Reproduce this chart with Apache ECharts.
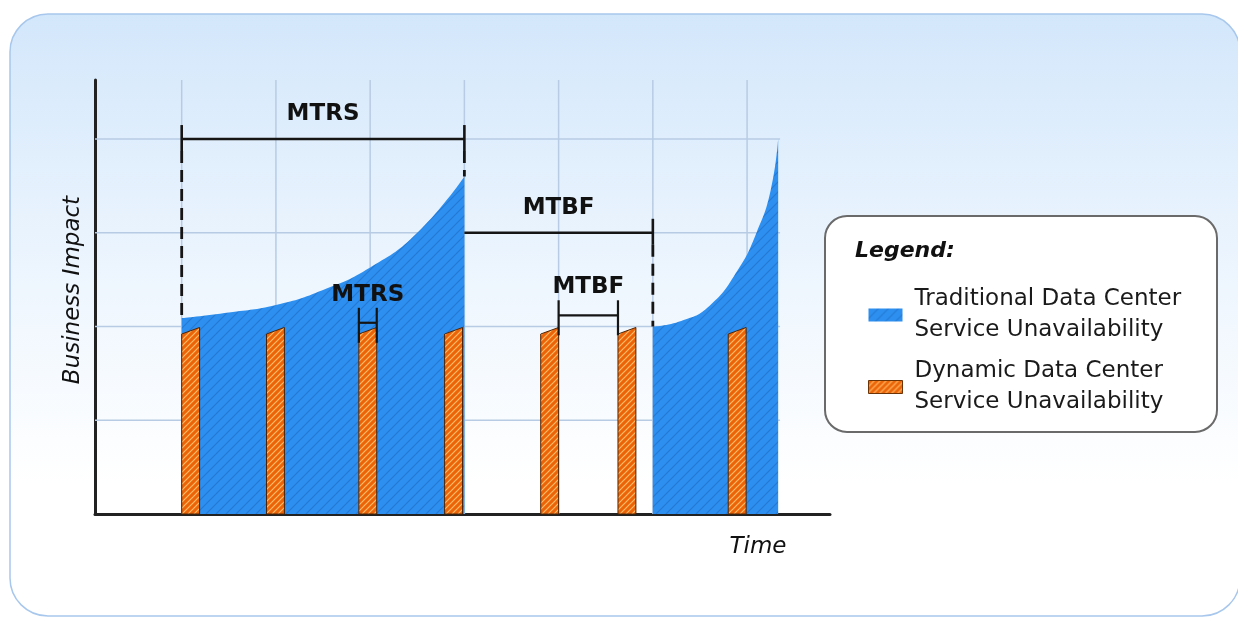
<!DOCTYPE html>
<html>
<head>
<meta charset="utf-8">
<script src="https://cdn.jsdelivr.net/npm/echarts@6/dist/echarts.min.js"></script>
<style>
  html, body { margin: 0; padding: 0; background: #ffffff; }
  #chart { width: 1238px; height: 618px; }
</style>
</head>
<body>
<div id="chart"></div>
<script>
// ---- data -------------------------------------------------------------
// Grid columns (time) and rows (impact)
const gridX = [0, 1, 2, 3, 4, 5, 6];
const gridY = [1, 2, 3, 4];

// Traditional data center outages: impact keeps growing until restored
const traditionalOutage1 = [[0, 2.09], [0.5, 2.15], [1, 2.23], [1.5, 2.39], [2, 2.63], [2.5, 3.0], [3, 3.6]];
const traditionalOutage2 = [[5, 2.0], [5.3, 2.06], [5.6, 2.22], [5.9, 2.6], [6.1, 3.0], [6.25, 3.45], [6.33, 4.0]];

// Dynamic data center outages: start time, duration, impact at start / end
const dynamicStart = [0, 0.9, 1.88, 2.79, 3.81, 4.63, 5.8];
const dynamicDuration = 0.19;
const dynamicImpactStart = [1.92, 1.92, 1.92, 1.92, 1.92, 1.92, 1.92];
const dynamicImpactEnd = [1.99, 1.99, 1.99, 1.99, 1.99, 1.99, 1.99];

// Measured intervals
const spanNames = ['MTRS', 'MTBF', 'MTRS', 'MTBF'];
const spanFrom = [0, 3, 1.88, 4.0];
const spanTo = [3, 5, 2.07, 4.63];
const spanLevel = [4.0, 3.0, 2.04, 2.12];
const spanKind = ['outer', 'outer', 'inner', 'inner'];
const spanTickLeft = [true, false, true, true];
const spanDropLeft = [2.09, null, null, null];
const spanDropRight = [3.6, 2.0, null, null];

const nameTraditional = 'Traditional Data Center\nService Unavailability';
const nameDynamic = 'Dynamic Data Center\nService Unavailability';

// ---- styles -----------------------------------------------------------
const FONT = 'DejaVu Sans';
const X_MIN = -0.92, X_MAX = 6.88, Y_MAX = 4.63;
const GRID_ROW_END = 6.35;

function stripes(bg, stripe, step, lw) {
  const c = document.createElement('canvas');
  c.width = c.height = step;
  const g = c.getContext('2d');
  g.fillStyle = bg;
  g.fillRect(0, 0, step, step);
  g.strokeStyle = stripe;
  g.lineWidth = lw;
  g.beginPath();
  g.moveTo(-1, step + 1); g.lineTo(step + 1, -1);
  g.moveTo(-2, 2); g.lineTo(2, -2);
  g.moveTo(step - 2, step + 2); g.lineTo(step + 2, step - 2);
  g.stroke();
  return { image: c, repeat: 'repeat' };
}
const bluePattern = stripes('#2d90f0', '#2678d2', 10, 1.2);
const orangePattern = stripes('#ec6408', '#ffbd6a', 6, 1.2);

const chart = echarts.init(document.getElementById('chart'), null, { renderer: 'canvas' });

const option = {
  animation: false,
  backgroundColor: '#ffffff',
  graphic: [
    {
      type: 'rect', z: -10, silent: true,
      shape: { x: 10, y: 14, width: 1230, height: 602, r: 38 },
      style: {
        fill: { type: 'linear', x: 0, y: 0, x2: 0, y2: 1,
          colorStops: [
            { offset: 0, color: '#d3e7fb' },
            { offset: 0.45, color: '#eef6fe' },
            { offset: 0.78, color: '#ffffff' },
            { offset: 1, color: '#ffffff' }
          ] },
        stroke: '#a8c7ec', lineWidth: 1.5
      }
    },
    {
      type: 'rect', z: 3, silent: true,
      shape: { x: 825, y: 216, width: 392, height: 216, r: 22 },
      style: { fill: '#ffffff', stroke: '#6a6a6a', lineWidth: 2 }
    },
    {
      type: 'text', z: 5, silent: true,
      style: { x: 855, y: 251, text: 'Legend:', align: 'left', verticalAlign: 'middle',
        font: 'italic bold 22px "' + FONT + '"', fill: '#111111' }
    }
  ],
  legend: {
    orient: 'vertical',
    left: 868, top: 284, padding: 0,
    itemWidth: 34, itemHeight: 13, itemGap: 10,
    selectedMode: false,
    z: 6,
    textStyle: { fontFamily: FONT, fontSize: 23, lineHeight: 31, color: '#1a1a1a', padding: [0, 0, 0, 7] },
    data: [
      { name: nameTraditional, icon: 'rect', itemStyle: { color: bluePattern, borderWidth: 0 } },
      { name: nameDynamic, icon: 'rect', itemStyle: { color: orangePattern, borderColor: '#6b3306', borderWidth: 1 } }
    ]
  },
  grid: { left: 95, right: 408, top: 80, bottom: 104 },
  xAxis: {
    type: 'value', min: X_MIN, max: X_MAX,
    name: 'Time', nameLocation: 'end', nameGap: -72,
    nameTextStyle: { fontFamily: FONT, fontStyle: 'italic', fontSize: 23, color: '#111111',
      align: 'center', verticalAlign: 'top', padding: [22, 0, 0, 0] },
    axisLine: { onZero: false, lineStyle: { color: '#222222', width: 3 } },
    axisTick: { show: false }, axisLabel: { show: false }, splitLine: { show: false }
  },
  yAxis: {
    type: 'value', min: 0, max: Y_MAX,
    name: 'Business Impact', nameLocation: 'middle', nameGap: 10, nameRotate: 90,
    nameTextStyle: { fontFamily: FONT, fontStyle: 'italic', fontSize: 23, color: '#111111', padding: [0, 0, 0, 14] },
    axisLine: { onZero: false, lineStyle: { color: '#222222', width: 3 } },
    axisTick: { show: false }, axisLabel: { show: false }, splitLine: { show: false }
  },
  series: [
    {
      // vertical grid lines
      type: 'custom', silent: true, z: 1,
      data: gridX.map(v => [v, 0]),
      renderItem: (params, api) => {
        const a = api.coord([api.value(0), 0]);
        const b = api.coord([api.value(0), Y_MAX]);
        return { type: 'line', shape: { x1: a[0], y1: a[1], x2: b[0], y2: b[1] },
          style: { stroke: '#b7cbe4', lineWidth: 1.5 } };
      }
    },
    {
      // horizontal grid lines
      type: 'custom', silent: true, z: 1,
      data: gridY.map(v => [0, v]),
      renderItem: (params, api) => {
        const a = api.coord([X_MIN, api.value(1)]);
        const b = api.coord([GRID_ROW_END, api.value(1)]);
        return { type: 'line', shape: { x1: a[0], y1: a[1], x2: b[0], y2: b[1] },
          style: { stroke: '#b7cbe4', lineWidth: 1.5 } };
      }
    },
    {
      name: nameTraditional, type: 'line', z: 2, silent: true,
      data: traditionalOutage1, smooth: 0.5, showSymbol: false,
      lineStyle: { width: 0 }, itemStyle: { color: '#2d90f0' },
      areaStyle: { color: bluePattern, opacity: 1 }
    },
    {
      name: nameTraditional, type: 'line', z: 2, silent: true,
      data: traditionalOutage2, smooth: 0.5, showSymbol: false,
      lineStyle: { width: 0 }, itemStyle: { color: '#2d90f0' },
      areaStyle: { color: bluePattern, opacity: 1 }
    },
    {
      name: nameDynamic, type: 'custom', z: 3, silent: true,
      itemStyle: { color: '#ec6408' },
      data: dynamicStart.map((s, i) => [s, dynamicImpactStart[i], dynamicImpactEnd[i]]),
      renderItem: (params, api) => {
        const x0 = api.value(0), x1 = x0 + dynamicDuration;
        const pts = [
          api.coord([x0, 0]), api.coord([x0, api.value(1)]),
          api.coord([x1, api.value(2)]), api.coord([x1, 0])
        ];
        return { type: 'polygon', shape: { points: pts },
          style: { fill: orangePattern, stroke: '#4e2404', lineWidth: 1 } };
      }
    },
    {
      // interval brackets with labels
      type: 'custom', z: 4, silent: true,
      data: spanNames.map((n, i) => [spanFrom[i], spanTo[i], spanLevel[i]]),
      renderItem: (params, api) => {
        const i = params.dataIndex;
        const outer = spanKind[i] === 'outer';
        const up = outer ? 14 : 15, down = outer ? 12 : 20;
        const lw = outer ? 2.6 : 2.2;
        const p1 = api.coord([api.value(0), api.value(2)]);
        const p2 = api.coord([api.value(1), api.value(2)]);
        const stroke = '#151515';
        const kids = [
          { type: 'line', shape: { x1: p1[0], y1: p1[1], x2: p2[0], y2: p2[1] }, style: { stroke, lineWidth: lw } },
          { type: 'line', shape: { x1: p2[0], y1: p2[1] - up, x2: p2[0], y2: p2[1] + down }, style: { stroke, lineWidth: lw } }
        ];
        if (spanTickLeft[i]) {
          kids.push({ type: 'line', shape: { x1: p1[0], y1: p1[1] - up, x2: p1[0], y2: p1[1] + down }, style: { stroke, lineWidth: lw } });
        }
        const drop = (p, v) => {
          const q = api.coord([0, v]);
          kids.push({ type: 'line', shape: { x1: p[0], y1: p[1] + down, x2: p[0], y2: q[1] },
            style: { stroke, lineWidth: 2.8, lineDash: [12, 7] } });
        };
        if (spanDropLeft[i] != null) drop(p1, spanDropLeft[i]);
        if (spanDropRight[i] != null) drop(p2, spanDropRight[i]);
        kids.push({ type: 'text', style: {
          x: (p1[0] + p2[0]) / 2, y: p1[1] - up - (outer ? 11 : 13), text: spanNames[i],
          align: 'center', verticalAlign: 'middle',
          font: 'bold 23px "' + FONT + '"', fill: '#111111' } });
        return { type: 'group', children: kids };
      }
    }
  ]
};

chart.setOption(option);
</script>
</body>
</html>
